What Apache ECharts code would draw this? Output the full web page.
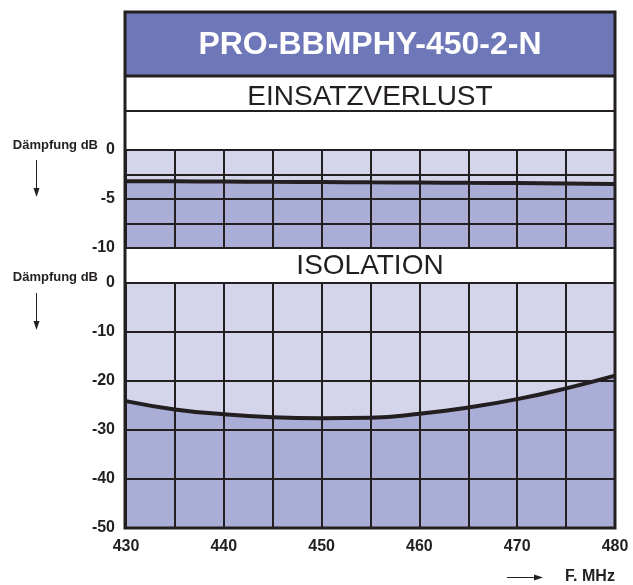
<!DOCTYPE html>
<html>
<head>
<meta charset="utf-8">
<script src="https://cdn.jsdelivr.net/npm/echarts@6/dist/echarts.min.js"></script>
<style>html,body{margin:0;padding:0;background:#fff}#c{width:633px;height:585px}</style>
</head>
<body>
<div id="c"></div>
<script>
// ---- data ----
const freqMHz = [430, 435, 440, 445, 450, 455, 460, 465, 470, 475, 480];
const insertionLossDb = [-3.18, -3.2, -3.22, -3.25, -3.27, -3.3, -3.32, -3.35, -3.38, -3.42, -3.46];
const isolationDb = [-24.1, -25.8, -26.8, -27.4, -27.6, -27.5, -26.7, -25.4, -23.7, -21.5, -18.9];
const xTickLabels = [430, 440, 450, 460, 470, 480];
const topYTickLabels = [0, -5, -10];
const bottomYTickLabels = [0, -10, -20, -30, -40, -50];
const titleText = 'PRO-BBMPHY-450-2-N';
const panel1Title = 'EINSATZVERLUST';
const panel2Title = 'ISOLATION';
const yAxisName = 'Dämpfung dB';
const xAxisName = 'F. MHz';

const INK = '#231f20';
const LIGHT = '#d4d5eb';
const DARK = '#aaadd6';
const PURPLE = '#6e77b8';
const FONT = '"Liberation Sans", Arial, Helvetica, sans-serif';

const pairs = (ys) => freqMHz.map((f, i) => [f, ys[i]]);

const chart = echarts.init(document.getElementById('c'), null, {renderer: 'canvas'});

const xAxisBase = {
  type: 'value', min: 430, max: 480, interval: 5, z: 3,
  axisLine: {show: false}, axisTick: {show: false},
  splitLine: {show: true, lineStyle: {color: INK, width: 2}}
};
const yLabelStyle = {color: INK, fontSize: 16, fontWeight: 'bold', fontFamily: FONT, margin: 11};

chart.setOption({
  animation: false,
  grid: [
    {left: 126, right: 18, top: 150, height: 98, show: true, backgroundColor: LIGHT, borderWidth: 0},
    {left: 126, right: 18, top: 283, height: 245, show: true, backgroundColor: LIGHT, borderWidth: 0}
  ],
  xAxis: [
    Object.assign({}, xAxisBase, {gridIndex: 0, axisLabel: {show: false}}),
    Object.assign({}, xAxisBase, {
      gridIndex: 1,
      axisLabel: {
        show: true, color: INK, fontSize: 16, fontWeight: 'bold', fontFamily: FONT, margin: 11,
        formatter: v => xTickLabels.indexOf(v) >= 0 ? String(v) : ''
      }
    })
  ],
  yAxis: [
    {
      type: 'value', gridIndex: 0, min: -10, max: 0, interval: 2.5, z: 3,
      axisLine: {show: false}, axisTick: {show: false},
      splitLine: {show: true, lineStyle: {color: INK, width: 2}},
      axisLabel: Object.assign({}, yLabelStyle, {
        formatter: v => topYTickLabels.indexOf(v) >= 0 ? String(v) : ''
      })
    },
    {
      type: 'value', gridIndex: 1, min: -50, max: 0, interval: 10, z: 3,
      axisLine: {show: false}, axisTick: {show: false},
      splitLine: {show: true, lineStyle: {color: INK, width: 2}},
      axisLabel: Object.assign({}, yLabelStyle, {
        formatter: v => bottomYTickLabels.indexOf(v) >= 0 ? String(v) : ''
      })
    }
  ],
  series: [
    {
      type: 'line', xAxisIndex: 0, yAxisIndex: 0, data: pairs(insertionLossDb),
      smooth: true, symbol: 'none', z: 2,
      lineStyle: {width: 0}, areaStyle: {color: DARK, opacity: 1, origin: 'start'}
    },
    {
      type: 'line', xAxisIndex: 0, yAxisIndex: 0, data: pairs(insertionLossDb),
      smooth: true, symbol: 'none', z: 4,
      lineStyle: {color: INK, width: 4}
    },
    {
      type: 'line', xAxisIndex: 1, yAxisIndex: 1, data: pairs(isolationDb),
      smooth: true, symbol: 'none', z: 2,
      lineStyle: {width: 0}, areaStyle: {color: DARK, opacity: 1, origin: 'start'}
    },
    {
      type: 'line', xAxisIndex: 1, yAxisIndex: 1, data: pairs(isolationDb),
      smooth: true, symbol: 'none', z: 4,
      lineStyle: {color: INK, width: 4}
    }
  ],
  graphic: [
    {type: 'rect', shape: {x: 125, y: 12, width: 490, height: 64}, style: {fill: PURPLE}, z: 1},
    {type: 'line', shape: {x1: 125, y1: 76, x2: 615, y2: 76}, style: {stroke: INK, lineWidth: 3}, z: 10},
    {type: 'line', shape: {x1: 125, y1: 111, x2: 615, y2: 111}, style: {stroke: INK, lineWidth: 2}, z: 10},
    {type: 'line', shape: {x1: 125, y1: 150, x2: 615, y2: 150}, style: {stroke: INK, lineWidth: 2}, z: 10},
    {type: 'line', shape: {x1: 125, y1: 248, x2: 615, y2: 248}, style: {stroke: INK, lineWidth: 2}, z: 10},
    {type: 'line', shape: {x1: 125, y1: 283, x2: 615, y2: 283}, style: {stroke: INK, lineWidth: 2}, z: 10},
    {type: 'rect', shape: {x: 125, y: 12, width: 490, height: 516}, style: {fill: null, stroke: INK, lineWidth: 3}, z: 20},
    {type: 'text', x: 370, y: 45, z: 21, style: {text: titleText, fill: '#fff', font: 'bold 32px ' + FONT, textAlign: 'center', textVerticalAlign: 'middle'}},
    {type: 'text', x: 370, y: 97, z: 21, style: {text: panel1Title, fill: INK, font: '28px ' + FONT, textAlign: 'center', textVerticalAlign: 'middle'}},
    {type: 'text', x: 370, y: 266, z: 21, style: {text: panel2Title, fill: INK, font: '28px ' + FONT, textAlign: 'center', textVerticalAlign: 'middle'}},
    {type: 'text', x: 98, y: 145, z: 21, style: {text: yAxisName, fill: INK, font: 'bold 13px ' + FONT, textAlign: 'right', textVerticalAlign: 'middle'}},
    {type: 'text', x: 98, y: 277, z: 21, style: {text: yAxisName, fill: INK, font: 'bold 13px ' + FONT, textAlign: 'right', textVerticalAlign: 'middle'}},
    {type: 'line', shape: {x1: 36.5, y1: 160, x2: 36.5, y2: 190}, style: {stroke: INK, lineWidth: 1}, z: 21},
    {type: 'polygon', shape: {points: [[33.5, 188], [39.5, 188], [36.5, 197]]}, style: {fill: INK}, z: 21},
    {type: 'line', shape: {x1: 36.5, y1: 293, x2: 36.5, y2: 323}, style: {stroke: INK, lineWidth: 1}, z: 21},
    {type: 'polygon', shape: {points: [[33.5, 321], [39.5, 321], [36.5, 330]]}, style: {fill: INK}, z: 21},
    {type: 'line', shape: {x1: 507, y1: 577.5, x2: 536, y2: 577.5}, style: {stroke: INK, lineWidth: 1}, z: 21},
    {type: 'polygon', shape: {points: [[534, 574.5], [534, 580.5], [543, 577.5]]}, style: {fill: INK}, z: 21},
    {type: 'text', x: 590, y: 577, z: 21, style: {text: xAxisName, fill: INK, font: 'bold 16px ' + FONT, textAlign: 'center', textVerticalAlign: 'middle'}}
  ]
});
</script>
</body>
</html>
